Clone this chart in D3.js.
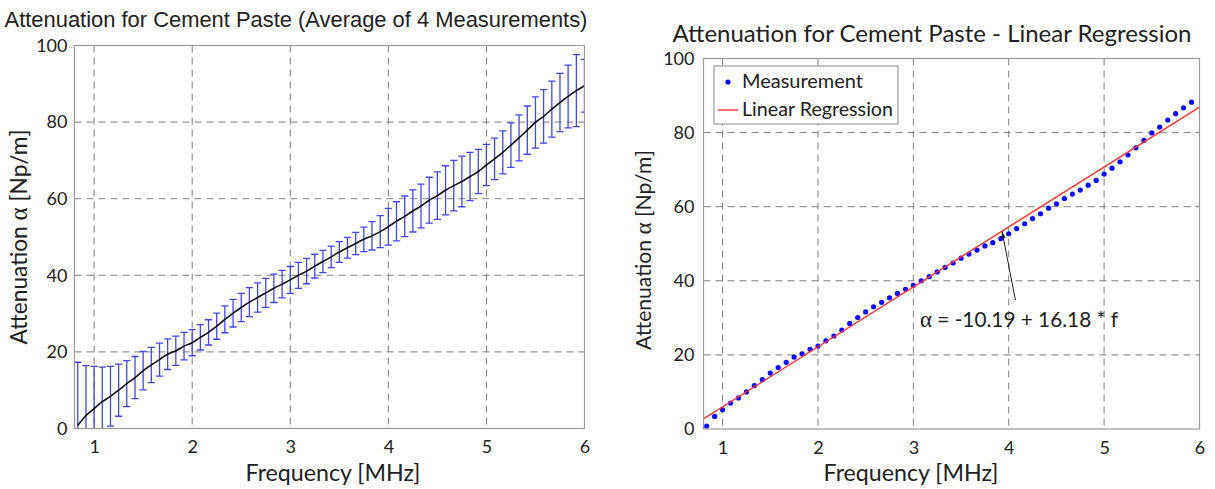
<!DOCTYPE html>
<html><head><meta charset="utf-8">
<script src="https://cdn.jsdelivr.net/npm/d3@7"></script>
<style>body{margin:0;background:#fff}svg{display:block}</style>
</head><body>
<svg id="c" width="1215" height="489"></svg>
<script>
// ---------- data ----------
const freq = [0.833,0.917,1.000,1.083,1.167,1.250,1.333,1.417,1.500,1.583,1.667,1.750,1.833,1.917,
  2.000,2.083,2.167,2.250,2.333,2.417,2.500,2.583,2.667,2.750,2.833,2.917,
  3.000,3.083,3.167,3.250,3.333,3.417,3.500,3.583,3.667,3.750,3.833,3.917,
  4.000,4.083,4.167,4.250,4.333,4.417,4.500,4.583,4.667,4.750,4.833,4.917,
  5.000,5.083,5.167,5.250,5.333,5.417,5.500,5.583,5.667,5.750,5.833,5.917,6.000];
const meanAtt = [0.8,3.4,5.2,7.0,8.4,10.0,11.7,13.3,15.1,16.6,18.0,19.4,20.3,21.5,
  22.4,23.8,25.1,26.7,28.5,30.1,31.6,33.0,34.2,35.4,36.6,37.7,
  38.8,40.0,41.1,42.4,43.6,44.8,46.1,47.2,48.3,49.4,50.3,51.4,
  52.7,54.1,55.4,56.8,58.1,59.6,60.8,62.2,63.4,64.5,65.8,67.1,
  68.8,70.4,72.1,74.0,75.9,77.9,79.9,81.5,83.4,85.1,86.7,88.2,89.5];
const errAtt = [16.5,13.0,11.0,9.0,7.8,6.8,6.0,5.5,5.0,4.6,4.3,4.0,3.8,3.6,
  3.4,3.3,3.3,3.4,3.5,3.6,3.7,3.8,3.8,3.8,3.7,3.6,
  3.5,3.4,3.3,3.1,2.9,2.8,2.7,2.7,2.9,3.2,3.7,4.2,
  4.8,5.1,5.3,5.5,5.7,6.0,6.2,6.4,6.6,6.6,6.3,5.8,
  5.4,5.4,5.6,5.8,6.0,6.3,6.7,7.0,7.3,7.6,8.2,9.4,6.9];
const regIntercept = -10.19, regSlope = 16.18;
const xTicks = [1,2,3,4,5,6];
const yTicks = [0,20,40,60,80,100];
const titleLeft = "Attenuation for Cement Paste (Average of 4 Measurements)";
const titleRight = "Attenuation for Cement Paste - Linear Regression";
const xLabel = "Frequency [MHz]";
const yLabelParts = ["Attenuation ", "\u03B1", " [Np/m]"];
const legendLabels = ["Measurement","Linear Regression"];
const annParts = ["\u03B1", " = -10.19 + 16.18 * f"];

// ---------- setup ----------
const svg = d3.select("#c");
svg.append("rect").attr("width",1215).attr("height",489).attr("fill","#fff");
const CAL = "Lato, 'Open Sans', sans-serif";
const ARI = "'Liberation Sans', Arial, sans-serif";
const GRK = "'Liberation Serif', 'DejaVu Serif', serif";
const GRID = "#7f7f7f", FRAME = "#9a9a9a", TXT = "#222";

function fit(t, w){ const l = t.node().getComputedTextLength(); const fs = parseFloat(t.attr("font-size")); t.attr("font-size", fs*w/l); return t; }
function greekText(t, parts){ parts.forEach((p,i)=>{ const s=t.append("tspan").text(p); if(p==="\u03B1") s.attr("font-family",GRK).attr("font-size","1.1em"); }); return t; }

function panel(id, xs, ys, opt){
  const g = svg.append("g");
  const [x0,x1] = xs.range(), [y0,y1] = ys.range();
  g.append("clipPath").attr("id",id).append("rect").attr("x",x0).attr("y",y1).attr("width",x1-x0).attr("height",y0-y1);
  g.selectAll(".gx").data(xTicks.filter(d=>d<6)).join("line")
    .attr("x1",d=>xs(d)).attr("x2",d=>xs(d)).attr("y1",y1).attr("y2",y0)
    .attr("stroke",GRID).attr("stroke-width",1).attr("stroke-dasharray","7,5");
  g.selectAll(".gy").data(yTicks.filter(d=>d>0&&d<100)).join("line")
    .attr("y1",d=>ys(d)).attr("y2",d=>ys(d)).attr("x1",x0).attr("x2",x1)
    .attr("stroke",GRID).attr("stroke-width",1).attr("stroke-dasharray","7,5");
  const ax = g.append("g").attr("transform",`translate(0,${y0})`)
    .call(d3.axisBottom(xs).tickValues(xTicks).tickSize(0).tickPadding(opt.xpad).tickFormat(d3.format("d")));
  const ay = g.append("g").attr("transform",`translate(${x0},0)`)
    .call(d3.axisLeft(ys).tickValues(yTicks).tickSize(0).tickPadding(opt.ypad).tickFormat(d3.format("d")));
  [ax,ay].forEach(a=>{ a.select(".domain").remove(); a.selectAll("text").attr("font-family",CAL).attr("font-size",18).attr("fill",TXT); });
  const frame = ()=> g.append("rect").attr("x",x0).attr("y",y1).attr("width",x1-x0).attr("height",y0-y1)
    .attr("fill","none").attr("stroke",FRAME).attr("stroke-width",1.2);
  fit(g.append("text").attr("x",opt.xlabX).attr("y",481).attr("text-anchor","middle")
    .attr("font-family",CAL).attr("font-size",20).attr("fill",TXT).text(xLabel), 175);
  fit(greekText(g.append("text").attr("transform",`translate(${opt.ylabX},${opt.ylabY}) rotate(-90)`).attr("text-anchor","middle")
    .attr("font-family",CAL).attr("font-size",20).attr("fill",TXT), yLabelParts), opt.ylabW);
  return {g, frame};
}

// ---------- left panel ----------
const xL = d3.scaleLinear([0.8,6],[74.5,584.5]);
const yL = d3.scaleLinear([0,100],[428.5,45.5]);
const L = panel("clipL", xL, yL, {xpad:12, ypad:7, xlabX:333, ylabX:27, ylabY:237, ylabW:215});
const data = freq.map((f,i)=>({f, m:meanAtt[i], e:errAtt[i]}));
const eb = L.g.append("g").attr("clip-path","url(#clipL)").attr("stroke","#4545ff").attr("stroke-width",1.3).attr("fill","none");
const cap = 3.6;
eb.selectAll("path").data(data).join("path")
  .attr("d",d=>{const x=xL(d.f), t=yL(d.m+d.e), b=yL(d.m-d.e);
    return `M${x},${t}V${b}M${x-cap},${t}H${x+cap}M${x-cap},${b}H${x+cap}`;});
L.g.append("path").datum(data).attr("clip-path","url(#clipL)")
  .attr("d",d3.line().x(d=>xL(d.f)).y(d=>yL(d.m)).curve(d3.curveMonotoneX))
  .attr("fill","none").attr("stroke","#111").attr("stroke-width",1.6);
L.frame();
fit(L.g.append("text").attr("x",296).attr("y",27).attr("text-anchor","middle")
  .attr("font-family",ARI).attr("font-size",19).attr("fill",TXT).text(titleLeft), 583);

// ---------- right panel ----------
const xR = d3.scaleLinear([0.8,6],[703.5,1199.5]);
const yR = d3.scaleLinear([0,100],[429,58.5]);
const R = panel("clipR", xR, yR, {xpad:12, ypad:9, xlabX:911, ylabX:651, ylabY:250, ylabW:200});
const cr = R.g.append("g").attr("clip-path","url(#clipR)");
const regLine = [0.8,6].map(f=>({f, v:regIntercept+regSlope*f}));
cr.selectAll("circle").data(data.filter(d=>d.f<6)).join("circle")
  .attr("cx",d=>xR(d.f)).attr("cy",d=>yR(d.m)).attr("r",2.6).attr("fill","#0a0aff");
cr.append("path").datum(regLine).attr("d",d3.line().x(d=>xR(d.f)).y(d=>yR(d.v)))
  .attr("stroke","#ff3333").attr("stroke-width",1.4).attr("fill","none");
R.frame();
fit(R.g.append("text").attr("x",932).attr("y",42).attr("text-anchor","middle")
  .attr("font-family",CAL).attr("font-size",21).attr("fill",TXT).text(titleRight), 519);

// legend
const lg = R.g.append("g");
lg.append("rect").attr("x",714).attr("y",66).attr("width",184).attr("height",58)
  .attr("fill","#fff").attr("stroke","#8a8a8a").attr("stroke-width",1);
lg.append("circle").attr("cx",728).attr("cy",82).attr("r",2.6).attr("fill","#0a0aff");
lg.append("line").attr("x1",718).attr("x2",738).attr("y1",110).attr("y2",110).attr("stroke","#ff3333").attr("stroke-width",1.4);
fit(lg.append("text").attr("x",742).attr("y",88).attr("font-family",CAL).attr("font-size",18).attr("fill",TXT).text(legendLabels[0]),121);
fit(lg.append("text").attr("x",742).attr("y",116).attr("font-family",CAL).attr("font-size",18).attr("fill",TXT).text(legendLabels[1]),151);

// annotation
svg.append("defs").append("marker").attr("id","ah").attr("viewBox","0 0 10 10").attr("refX",10).attr("refY",5)
  .attr("markerWidth",7).attr("markerHeight",7).attr("orient","auto")
  .append("path").attr("d","M0,2L10,5L0,8Z").attr("fill","#222");
R.g.append("line").attr("x1",xR(4.07)).attr("y1",yR(34.8)).attr("x2",xR(3.93)).attr("y2",yR(regIntercept+regSlope*3.93))
  .attr("stroke","#222").attr("stroke-width",1).attr("marker-end","url(#ah)");
fit(greekText(R.g.append("text").attr("x",920).attr("y",327).attr("font-family",CAL).attr("font-size",18).attr("fill",TXT), annParts),198);
</script>
</body></html>
